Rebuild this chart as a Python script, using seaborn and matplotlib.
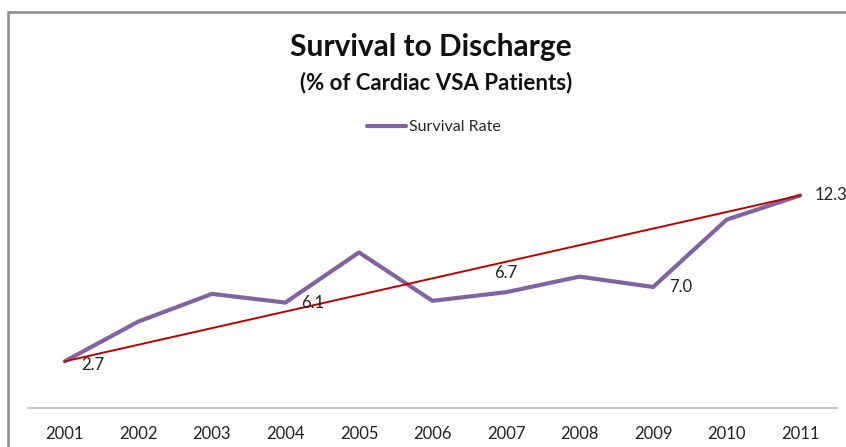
import numpy as np
import pandas as pd
import matplotlib
matplotlib.use("Agg")
import matplotlib.pyplot as plt
import seaborn as sns
from matplotlib.patches import Rectangle

years = ["2001", "2002", "2003", "2004", "2005", "2006",
         "2007", "2008", "2009", "2010", "2011"]
survival = [2.7, 5.0, 6.6, 6.1, 9.0, 6.2, 6.7, 7.6, 7.0, 10.9, 12.3]
labelled = {"2001": (20, -3), "2004": (20, 0), "2007": (0, 14),
            "2009": (20, 0), "2011": (22, 0)}

sns.set_theme(style="white")
plt.rcParams["font.family"] = ["Lato", "DejaVu Sans"]

df = pd.DataFrame({"year": years, "rate": survival})
df["pos"] = np.arange(len(df))

fig = plt.figure(figsize=(8.46, 4.47), dpi=100)
ax = fig.add_axes([28 / 846, 39 / 447, 809 / 846, 242 / 447])

sns.lineplot(data=df, x="pos", y="rate", ax=ax, color="#8064A2",
             linewidth=3, label="Survival Rate", legend=False)

# straight trend from first to last value
ax.plot([df["pos"].iloc[0], df["pos"].iloc[-1]],
        [df["rate"].iloc[0], df["rate"].iloc[-1]],
        color="#C00000", linewidth=1.4, zorder=3)

for _, r in df.iterrows():
    if r["year"] in labelled:
        dx, dy = labelled[r["year"]]
        ax.annotate(f"{r['rate']:.1f}", (r["pos"], r["rate"]),
                    xytext=(dx, dy), textcoords="offset points",
                    ha="center", va="center", fontsize=12, color="#222222")

ax.set_xlim(-0.5, len(df) - 0.5)
ax.set_ylim(0, 14)
ax.set_xticks(df["pos"])
ax.set_xticklabels(df["year"], fontsize=12, color="#222222")
ax.set_yticks([])
ax.set_xlabel("")
ax.set_ylabel("")
ax.tick_params(axis="x", length=0, pad=13)
for s in ["top", "right", "left"]:
    ax.spines[s].set_visible(False)
ax.spines["bottom"].set_color("#BBBBBB")
ax.spines["bottom"].set_linewidth(1.2)

fig.text(431 / 846, 1 - 47 / 447, "Survival to Discharge", ha="center",
         va="center", fontsize=21.5, fontweight="bold", color="#111111")
fig.text(436 / 846, 1 - 83 / 447, "(% of Cardiac VSA Patients)", ha="center",
         va="center", fontsize=16, fontweight="bold", color="#111111")

leg = fig.legend(*ax.get_legend_handles_labels(), loc="center",
                 bbox_to_anchor=(434 / 846, 1 - 127 / 447), frameon=False,
                 fontsize=11.5, handlelength=2.4, handletextpad=0.2)

fig.patches.append(Rectangle((8 / 846, -0.1), 1.0, 1.1 - 12 / 447,
                             transform=fig.transFigure, fill=False,
                             edgecolor="#8C8C8C", linewidth=1.8))

fig.savefig("out.png", dpi=100)
